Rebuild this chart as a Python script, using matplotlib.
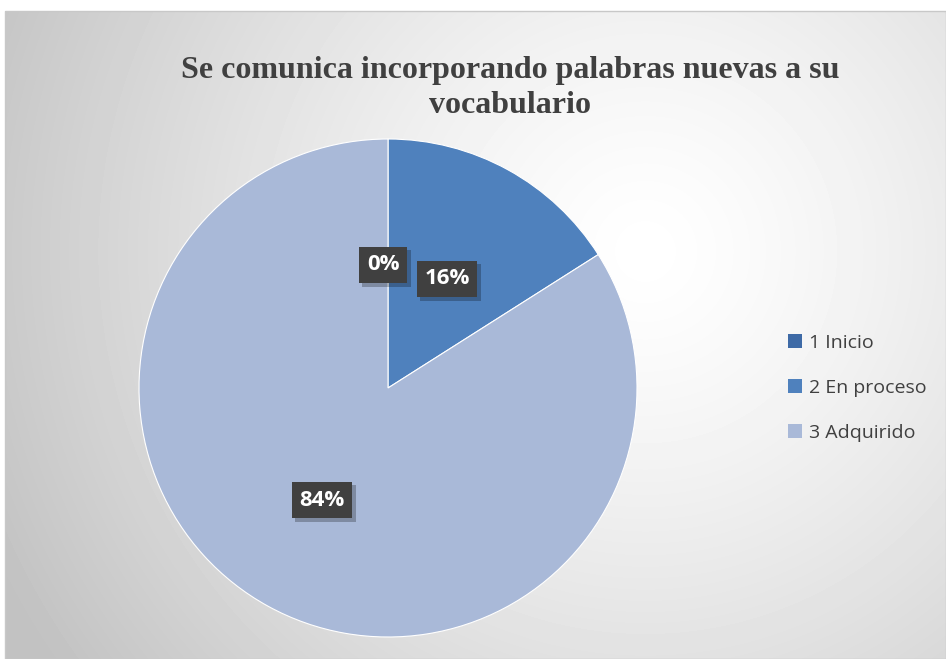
import numpy as np
import matplotlib.pyplot as plt
import matplotlib.patheffects as pe

categorias = ["1 Inicio", "2 En proceso", "3 Adquirido"]
valores = [0, 16, 84]
etiquetas = ["0%", "16%", "84%"]
colores = ["#3E6AA6", "#4F81BD", "#A9B9D8"]
titulo = "Se comunica incorporando palabras nuevas a su\nvocabulario"

W, H = 946, 659
fig = plt.figure(figsize=(W / 100, H / 100), dpi=100)

# fondo con degradado radial
bg = fig.add_axes([5 / W, 0, 1 - 5 / W, 1 - 11 / H])
yy, xx = np.mgrid[0:648, 0:941]
d = np.hypot(xx - 640, yy - 240) / 720
grad = np.clip(1.0 - 0.24 * d ** 1.3, 0.76, 1.0)
bg.imshow(grad, cmap="gray", vmin=0, vmax=1, aspect="auto",
          extent=[0, 941, 648, 0], interpolation="bilinear")
bg.set_axis_off()
fig.patches.append(plt.Rectangle((5 / W, 0), 1 - 5 / W, 1 - 11 / H,
                                 transform=fig.transFigure, fill=False,
                                 edgecolor="#c8c8c8", lw=1))

# pastel
cx, cy, r = 388, 388, 249
ax = fig.add_axes([(cx - r) / W, (H - cy - r) / H, 2 * r / W, 2 * r / H])
wedges, _ = ax.pie(valores, colors=colores, startangle=90, counterclock=False,
                   radius=1, wedgeprops=dict(edgecolor="white", linewidth=0.8))
ax.set_xlim(-1, 1)
ax.set_ylim(-1, 1)
ax.set_aspect("equal")
ax.set_axis_off()

pos_etq = [(-0.02, 0.494), (0.237, 0.438), (-0.265, -0.45)]
for (x, y), t in zip(pos_etq, etiquetas):
    txt = ax.text(x, y, t, ha="center", va="center", fontsize=16,
                  fontweight="bold", family="Open Sans", color="white",
                  zorder=5,
                  bbox=dict(boxstyle="square,pad=0.35", fc="#404040", ec="none"))
    txt.get_bbox_patch().set_path_effects(
        [pe.SimplePatchShadow(offset=(2.5, -2.5), shadow_rgbFace="black",
                              alpha=0.25), pe.Normal()])

fig.text(510 / W, 1 - 88 / H, titulo, ha="center", va="center", fontsize=23,
         fontweight="bold", family="Liberation Serif", color="#404040",
         linespacing=1.3)

handles = [plt.Rectangle((0, 0), 1, 1, fc=c) for c in colores]
leg = fig.legend(handles, categorias, loc="center left",
                 bbox_to_anchor=(770 / W, 1 - 388 / H), frameon=False,
                 labelspacing=1.4, handlelength=0.72,
                 handleheight=0.72, handletextpad=0.4,
                 prop=dict(family="Open Sans", size=14))
for t in leg.get_texts():
    t.set_color("#404040")

fig.savefig("out.png", dpi=100)
